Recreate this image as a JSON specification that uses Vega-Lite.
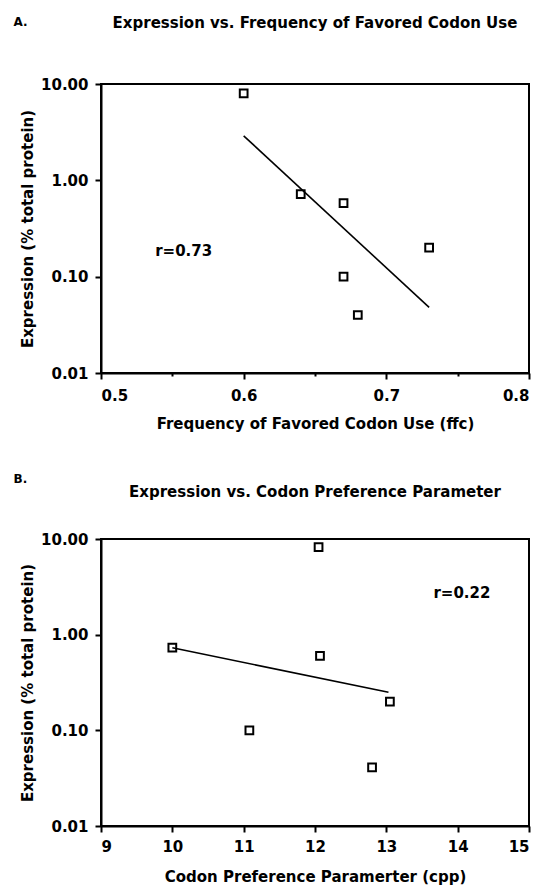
{
  "$schema": "https://vega.github.io/schema/vega-lite/v6.json",
  "background": "white",
  "padding": {"left": 13, "top": 15, "right": 5, "bottom": 5},
  "config": {
    "font": "DejaVu Sans",
    "view": {"stroke": "black", "strokeWidth": 2},
    "axis": {
      "grid": false,
      "domainColor": "black",
      "domainWidth": 2,
      "tickColor": "black",
      "tickWidth": 2,
      "labelFont": "DejaVu Sans",
      "labelFontSize": 15,
      "labelFontWeight": "bold",
      "labelColor": "black",
      "titleFont": "DejaVu Sans",
      "titleFontSize": 15,
      "titleFontWeight": "bold",
      "titleColor": "black"
    },
    "title": {"font": "DejaVu Sans", "fontSize": 15, "fontWeight": "bold", "color": "black"}
  },
  "datasets": {
    "a": [
      {"ffc": 0.60, "expr": 8.0},
      {"ffc": 0.64, "expr": 0.72},
      {"ffc": 0.67, "expr": 0.58},
      {"ffc": 0.67, "expr": 0.10},
      {"ffc": 0.68, "expr": 0.04},
      {"ffc": 0.73, "expr": 0.20}
    ],
    "fitA": [
      {"ffc": 0.60, "expr": 2.9},
      {"ffc": 0.73, "expr": 0.048}
    ],
    "labA": [{"ffc": 0.538, "expr": 0.185, "label": "r=0.73"}],
    "b": [
      {"cpp": 12.05, "expr": 8.2},
      {"cpp": 10.0, "expr": 0.73},
      {"cpp": 12.07, "expr": 0.6},
      {"cpp": 13.05, "expr": 0.2},
      {"cpp": 11.08, "expr": 0.1},
      {"cpp": 12.8, "expr": 0.041}
    ],
    "fitB": [
      {"cpp": 10.0, "expr": 0.73},
      {"cpp": 13.03, "expr": 0.25}
    ],
    "labB": [{"cpp": 13.66, "expr": 2.7, "label": "r=0.22"}]
  },
  "spacing": 41,
  "vconcat": [
    {
      "title": {"text": "A.", "anchor": "start", "fontSize": 12, "dx": -6, "dy": 18},
      "vconcat": [
        {
          "title": {"text": "Expression vs. Frequency of Favored Codon Use", "anchor": "middle", "offset": 46},
          "width": 428,
          "height": 289,
          "layer": [
            {
              "data": {"name": "a"},
              "mark": {"type": "point", "shape": "square", "filled": false, "size": 60, "strokeWidth": 2, "color": "black", "opacity": 1},
              "encoding": {
                "x": {"field": "ffc", "type": "quantitative", "scale": {"domain": [0.5, 0.8], "nice": false, "zero": false},
                  "axis": {"title": "Frequency of Favored Codon Use (ffc)", "values": [0.5, 0.55, 0.6, 0.65, 0.7, 0.75, 0.8],
                    "labelExpr": "(round(datum.value*100) % 10 == 0) ? format(datum.value, '.1f') : ''",
                    "tickSize": {"condition": {"test": "round(datum.value*100) % 10 != 0", "value": 3}, "value": 6},
                    "labelPadding": 9, "titlePadding": 13}},
                "y": {"field": "expr", "type": "quantitative", "scale": {"type": "log", "domain": [0.01, 10], "nice": false},
                  "axis": {"title": "Expression (% total protein)", "values": [0.01, 0.1, 1, 10], "format": ".2f", "tickSize": 6, "labelPadding": 7, "titlePadding": 5}}
              }
            },
            {
              "data": {"name": "fitA"},
              "mark": {"type": "line", "color": "black", "strokeWidth": 1.6},
              "encoding": {
                "x": {"field": "ffc", "type": "quantitative"},
                "y": {"field": "expr", "type": "quantitative"}
              }
            },
            {
              "data": {"name": "labA"},
              "mark": {"type": "text", "align": "left", "baseline": "middle", "fontSize": 15, "fontWeight": "bold", "color": "black"},
              "encoding": {
                "x": {"field": "ffc", "type": "quantitative"},
                "y": {"field": "expr", "type": "quantitative"},
                "text": {"field": "label"}
              }
            }
          ]
        }
      ]
    },
    {
      "title": {"text": "B.", "anchor": "start", "fontSize": 12, "dx": -6, "dy": 6},
      "vconcat": [
        {
          "title": {"text": "Expression vs. Codon Preference Parameter", "anchor": "middle", "offset": 32},
          "width": 428,
          "height": 287,
          "layer": [
            {
              "data": {"name": "b"},
              "mark": {"type": "point", "shape": "square", "filled": false, "size": 60, "strokeWidth": 2, "color": "black", "opacity": 1},
              "encoding": {
                "x": {"field": "cpp", "type": "quantitative", "scale": {"domain": [9, 15], "nice": false, "zero": false},
                  "axis": {"title": "Codon Preference Paramerter (cpp)", "values": [9, 9.5, 10, 10.5, 11, 11.5, 12, 12.5, 13, 13.5, 14, 14.5, 15],
                    "labelExpr": "(datum.value % 1 == 0) ? format(datum.value, 'd') : ''",
                    "tickSize": {"condition": {"test": "datum.value % 1 != 0", "value": 3}, "value": 6},
                    "labelPadding": 7, "titlePadding": 15}},
                "y": {"field": "expr", "type": "quantitative", "scale": {"type": "log", "domain": [0.01, 10], "nice": false},
                  "axis": {"title": "Expression (% total protein)", "values": [0.01, 0.1, 1, 10], "format": ".2f", "tickSize": 6, "labelPadding": 7, "titlePadding": 5}}
              }
            },
            {
              "data": {"name": "fitB"},
              "mark": {"type": "line", "color": "black", "strokeWidth": 1.6},
              "encoding": {
                "x": {"field": "cpp", "type": "quantitative"},
                "y": {"field": "expr", "type": "quantitative"}
              }
            },
            {
              "data": {"name": "labB"},
              "mark": {"type": "text", "align": "left", "baseline": "middle", "fontSize": 15, "fontWeight": "bold", "color": "black"},
              "encoding": {
                "x": {"field": "cpp", "type": "quantitative"},
                "y": {"field": "expr", "type": "quantitative"},
                "text": {"field": "label"}
              }
            }
          ]
        }
      ]
    }
  ]
}
